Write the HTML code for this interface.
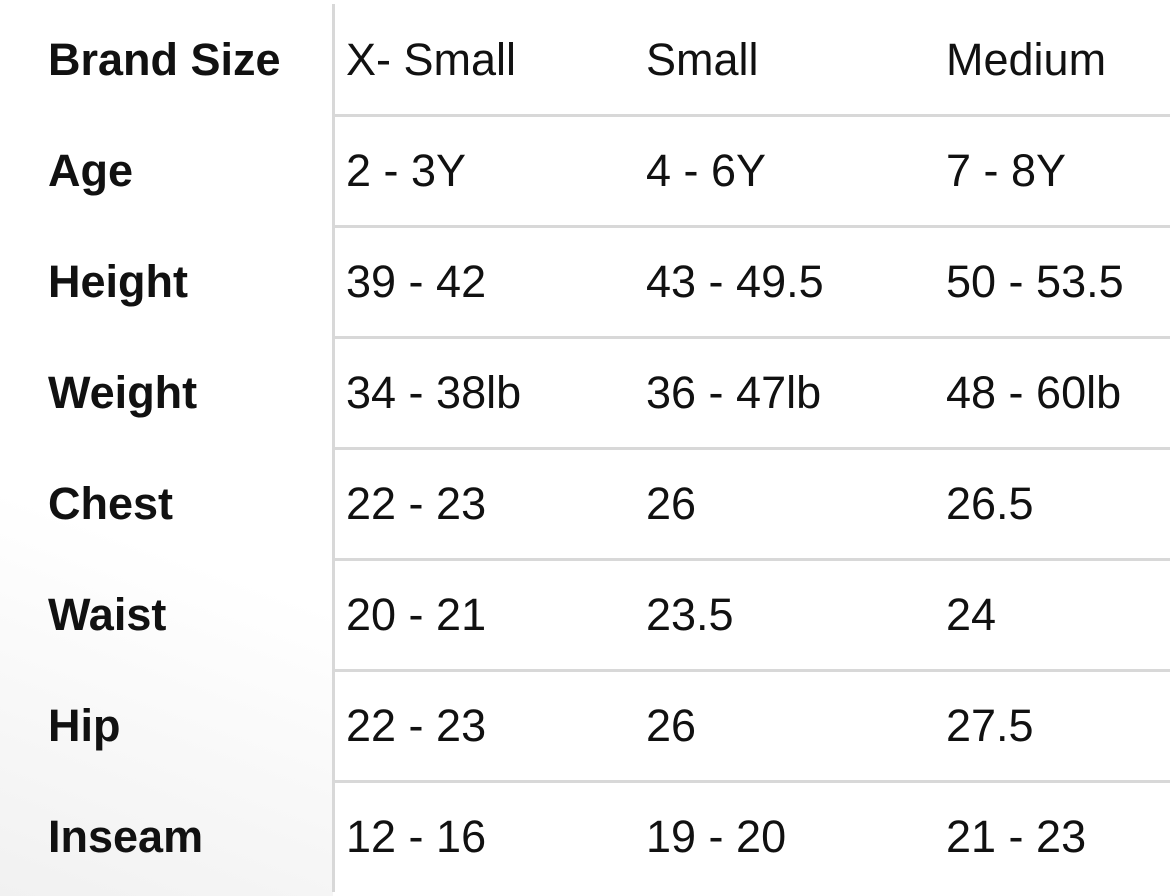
<!DOCTYPE html>
<html><head><style>
body{margin:0;width:1170px;height:896px;overflow:hidden;background:#fff;position:relative;font-family:"Liberation Sans",sans-serif;color:#111}
.bg{position:absolute;left:0;top:0;width:333px;height:896px;background:linear-gradient(200deg,#fff 60%,#f1f1f1 100%)}
.v{position:absolute;left:332px;top:4px;width:3px;height:888px;background:#d8d8d8}
.h{position:absolute;left:335px;width:835px;height:3px;background:#d8d8d8}
.t{position:absolute;font-size:45px;line-height:50px;white-space:nowrap;letter-spacing:0px}
.b{font-weight:bold}
</style></head><body>
<div class="bg"></div><div class="v"></div>
<div class="h" style="top:114px"></div><div class="h" style="top:225px"></div><div class="h" style="top:336px"></div><div class="h" style="top:447px"></div><div class="h" style="top:558px"></div><div class="h" style="top:669px"></div><div class="h" style="top:780px"></div>
<div class="t b" style="left:48px;top:35px">Brand Size</div><div class="t" style="left:346px;top:35px">X- Small</div><div class="t" style="left:646px;top:35px">Small</div><div class="t" style="left:946px;top:35px">Medium</div>
<div class="t b" style="left:48px;top:146px">Age</div><div class="t" style="left:346px;top:146px">2 - 3Y</div><div class="t" style="left:646px;top:146px">4 - 6Y</div><div class="t" style="left:946px;top:146px">7 - 8Y</div>
<div class="t b" style="left:48px;top:257px">Height</div><div class="t" style="left:346px;top:257px">39 - 42</div><div class="t" style="left:646px;top:257px">43 - 49.5</div><div class="t" style="left:946px;top:257px">50 - 53.5</div>
<div class="t b" style="left:48px;top:368px">Weight</div><div class="t" style="left:346px;top:368px">34 - 38lb</div><div class="t" style="left:646px;top:368px">36 - 47lb</div><div class="t" style="left:946px;top:368px">48 - 60lb</div>
<div class="t b" style="left:48px;top:479px">Chest</div><div class="t" style="left:346px;top:479px">22 - 23</div><div class="t" style="left:646px;top:479px">26</div><div class="t" style="left:946px;top:479px">26.5</div>
<div class="t b" style="left:48px;top:590px">Waist</div><div class="t" style="left:346px;top:590px">20 - 21</div><div class="t" style="left:646px;top:590px">23.5</div><div class="t" style="left:946px;top:590px">24</div>
<div class="t b" style="left:48px;top:701px">Hip</div><div class="t" style="left:346px;top:701px">22 - 23</div><div class="t" style="left:646px;top:701px">26</div><div class="t" style="left:946px;top:701px">27.5</div>
<div class="t b" style="left:48px;top:812px">Inseam</div><div class="t" style="left:346px;top:812px">12 - 16</div><div class="t" style="left:646px;top:812px">19 - 20</div><div class="t" style="left:946px;top:812px">21 - 23</div>
</body></html>
